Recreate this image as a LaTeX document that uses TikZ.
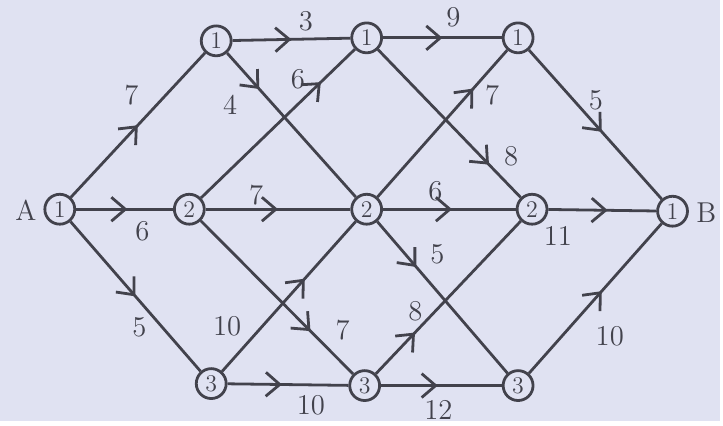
\documentclass[tikz,border=0pt]{standalone}
\usepackage{xcolor}
\usetikzlibrary{arrows.meta,decorations.markings}
\definecolor{ink}{RGB}{66,66,76}
\definecolor{paper}{RGB}{224,226,242}
\tikzset{
  stage/.style={circle,draw=ink,line width=1.4pt,minimum size=15pt,inner sep=0pt,font=\large,text=ink},
  flow/.style={draw=ink,line width=1.4pt,
    decoration={markings,mark=at position #1 with {\arrow{Straight Barb[length=7pt,width=12pt]}}},
    postaction={decorate}},
  cost/.style={font=\Large,text=ink},
}

\begin{document}
\begin{tikzpicture}[x=0.5pt,y=-0.5pt]
    \fill[paper] (0,0) rectangle (723,423);

    \node[stage] (A)  at (60,210)  {1};
    \node[stage] (t1) at (217,41)  {1};
    \node[stage] (t2) at (368,38)  {1};
    \node[stage] (t3) at (520,38)  {1};
    \node[stage] (m1) at (190,210) {2};
    \node[stage] (m2) at (368,210) {2};
    \node[stage] (m3) at (534,210) {2};
    \node[stage] (B)  at (675,212) {1};
    \node[stage] (b1) at (212,385) {3};
    \node[stage] (b2) at (366,387) {3};
    \node[stage] (b3) at (520,387) {3};

    \node[cost] (nameA) at (26,211) {A};
    \node[cost] (nameB) at (709,213) {B};

    \draw[flow=0.5]  (A) -- (t1);
    \draw[flow=0.53] (A) -- (m1);
    \draw[flow=0.5]  (A) -- (b1);
    \draw[flow=0.5]  (t1) -- (t2);
    \draw[flow=0.25] (t1) -- (m2);
    \draw[flow=0.78] (m1) -- (t2);
    \draw[flow=0.5]  (m1) -- (m2);
    \draw[flow=0.72] (m1) -- (b2);
    \draw[flow=0.62] (b1) -- (m2);
    \draw[flow=0.45] (b1) -- (b2);
    \draw[flow=0.5]  (t2) -- (t3);
    \draw[flow=0.78] (t2) -- (m3);
    \draw[flow=0.74] (m2) -- (t3);
    \draw[flow=0.52] (m2) -- (m3);
    \draw[flow=0.3]  (m2) -- (b3);
    \draw[flow=0.27] (b2) -- (m3);
    \draw[flow=0.47] (b2) -- (b3);
    \draw[flow=0.55] (t3) -- (B);
    \draw[flow=0.55] (m3) -- (B);
    \draw[flow=0.55] (b3) -- (B);

    \node[cost] (cAt)  at (132,95)  {7};
    \node[cost] (cAm)  at (143,232) {6};
    \node[cost] (cAb)  at (140,328) {5};
    \node[cost] (ctt1) at (307,21)  {3};
    \node[cost] (ctm1) at (231,105) {4};
    \node[cost] (cmt1) at (299,80)  {6};
    \node[cost] (cmm1) at (257,196) {7};
    \node[cost] (cmb1) at (344,331) {7};
    \node[cost] (cbm1) at (228,327) {10};
    \node[cost] (cbb1) at (312,407) {10};
    \node[cost] (ctt2) at (455,17)  {9};
    \node[cost] (ctm2) at (513,157) {8};
    \node[cost] (cmt2) at (494,95)  {7};
    \node[cost] (cmm2) at (437,192) {6};
    \node[cost] (cmb2) at (439,255) {5};
    \node[cost] (cbm2) at (417,312) {8};
    \node[cost] (cbb2) at (440,411) {12};
    \node[cost] (ctB)  at (598,101) {5};
    \node[cost] (cmB)  at (560,237) {11};
    \node[cost] (cbB)  at (612,337) {10};
\end{tikzpicture}
\end{document}
